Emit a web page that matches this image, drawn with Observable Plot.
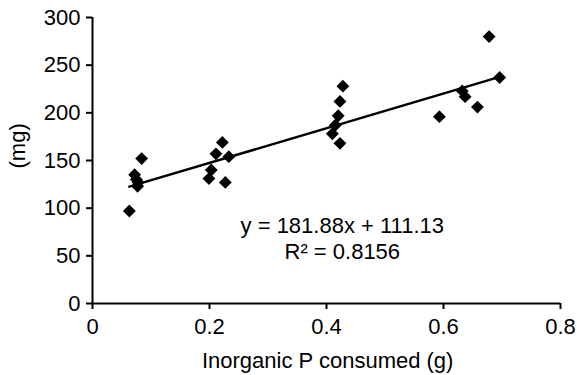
<!DOCTYPE html>
<html>
<head>
<meta charset="utf-8">
<script src="https://cdn.jsdelivr.net/npm/d3@7"></script>
<script src="https://cdn.jsdelivr.net/npm/@observablehq/plot@0.6"></script>
<style>
  html, body { margin: 0; padding: 0; background: #fff; }
  #chart svg { display: block; }
</style>
</head>
<body>
<div id="chart"></div>
<script>
const xValues = [0.063, 0.084, 0.072, 0.075, 0.078, 0.077,
                 0.222, 0.211, 0.233, 0.203, 0.199, 0.227,
                 0.428, 0.423, 0.420, 0.415, 0.410, 0.423,
                 0.678, 0.696, 0.632, 0.637, 0.658, 0.593];
const yValues = [97, 152, 135, 130, 127, 123,
                 169, 157, 154, 140, 131, 127,
                 228, 212, 197, 187, 178, 168,
                 280, 237, 223, 217, 206, 196];
const xTicks = [0, 0.2, 0.4, 0.6, 0.8];
const yTicks = [0, 50, 100, 150, 200, 250, 300];
const slope = 181.88;
const intercept = 111.13;
const eqLines = ["y = 181.88x + 111.13", "R\u00B2 = 0.8156"];
const xTitle = "Inorganic P consumed (g)";
const yTitle = "(mg)";

const points = xValues.map((x, i) => ({x, y: yValues[i]}));
const xMin = d3.min(xValues), xMax = d3.max(xValues);
const trend = [xMin, xMax].map(x => ({x, y: slope * x + intercept}));

const font = "Liberation Sans, Arial, sans-serif";

const chart = Plot.plot({
  width: 577,
  height: 375,
  marginLeft: 92,
  marginRight: 17,
  marginTop: 17,
  marginBottom: 72,
  style: {fontFamily: font, fontSize: "22px", color: "#000", background: "#fff"},
  x: {domain: [0, 0.8]},
  y: {domain: [0, 300]},
  marks: [
    Plot.axisX({ticks: xTicks, tickSize: 6, tickPadding: 9, strokeWidth: 2, fontSize: 22,
                tickFormat: d => String(d), label: null}),
    Plot.axisY({ticks: yTicks, tickSize: 6, tickPadding: 6, strokeWidth: 2, fontSize: 22,
                tickFormat: d => String(d), label: null}),
    Plot.ruleX([0], {y1: 0, y2: 300, stroke: "#000", strokeWidth: 2}),
    Plot.ruleY([0], {x1: 0, x2: 0.8, stroke: "#000", strokeWidth: 2}),
    Plot.line(trend, {x: "x", y: "y", stroke: "#000", strokeWidth: 2.5}),
    Plot.dot(points, {x: "x", y: "y", symbol: "diamond2", r: 5.8, fill: "#000", stroke: "none"}),
    Plot.text([eqLines.join("\n")], {x: 0.427, y: 68.8, text: d => d, fontSize: 22, lineHeight: 1.16, fill: "#000"}),
    Plot.text([xTitle], {x: 0.402, y: 0, text: d => d, dy: 57, fontSize: 22, fill: "#000"}),
    Plot.text([yTitle], {frameAnchor: "left", text: d => d, rotate: -90, dx: -74.5, dy: 8, fontSize: 22, fill: "#000"})
  ]
});
document.getElementById("chart").appendChild(chart);
</script>
</body>
</html>
